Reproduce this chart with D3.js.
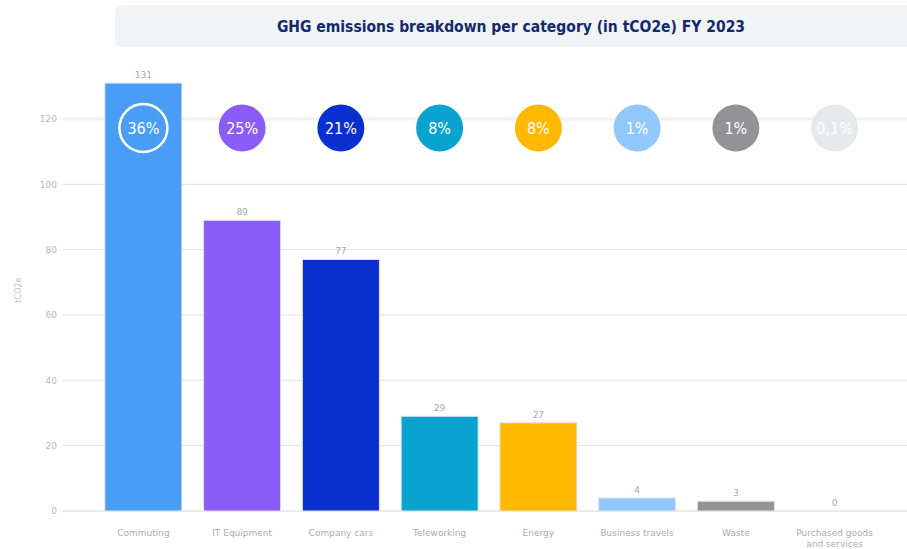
<!DOCTYPE html>
<html>
<head>
<meta charset="utf-8">
<script src="https://cdn.jsdelivr.net/npm/d3@7"></script>
<style>
  body { margin: 0; background: #fff; }
  svg { display: block; }
</style>
</head>
<body>
<div id="chart"></div>
<script>
// data
const categories = ["Commuting", "IT Equipment", "Company cars", "Teleworking", "Energy", "Business travels", "Waste", "Purchased goods and services"];
const values = [131, 89, 77, 29, 27, 4, 3, 0];
const shares = ["36%", "25%", "21%", "8%", "8%", "1%", "1%", "0,1%"];
const colors = ["#4a9df5", "#8b5cf8", "#0a2fcf", "#0aa2cf", "#ffb900", "#92c8fd", "#939396", "#e8e9eb"];
const yTicks = [0, 20, 40, 60, 80, 100, 120];

const width = 907, height = 549;
const condensed = "'DejaVu Sans Condensed', 'DejaVu Sans', sans-serif";

const svg = d3.select("#chart").append("svg")
  .attr("width", width)
  .attr("height", height);

// title box
svg.append("rect")
  .attr("x", 115).attr("y", 5)
  .attr("width", 800).attr("height", 42)
  .attr("rx", 7)
  .attr("fill", "#f1f3f4");

svg.append("text")
  .attr("x", 511).attr("y", 32)
  .attr("text-anchor", "middle")
  .style("font-family", condensed)
  .style("font-weight", "bold")
  .style("font-size", "15.5px")
  .style("fill", "#13296b")
  .text("GHG emissions breakdown per category (in tCO2e) FY 2023");

const x = d3.scaleBand()
  .domain(categories)
  .range([94, 884])
  .paddingInner(0.22)
  .paddingOuter(0.11);

const y = d3.scaleLinear()
  .domain([0, 120])
  .range([511, 119]);

// grid
const grid = svg.append("g").attr("class", "grid");
grid.selectAll("line")
  .data(yTicks)
  .join("line")
  .attr("x1", 62).attr("x2", width)
  .attr("y1", d => y(d)).attr("y2", d => y(d))
  .attr("stroke", d => d === 0 ? "#d6d6d6" : d === 120 ? "#f1f1f1" : "#e2e2e2")
  .attr("stroke-width", d => d === 120 ? 3 : 1);

// y axis labels
const yAxis = svg.append("g")
  .attr("transform", "translate(57,0)")
  .call(d3.axisLeft(y).tickValues(yTicks).tickSize(0).tickPadding(0));
yAxis.select(".domain").remove();
yAxis.selectAll("text")
  .style("font-family", "'DejaVu Sans', sans-serif")
  .style("font-size", "9px")
  .style("fill", "#b8b8b8");

svg.append("text")
  .attr("transform", "translate(21,290) rotate(-90)")
  .attr("text-anchor", "middle")
  .style("font-family", "'DejaVu Sans', sans-serif")
  .style("font-size", "8px")
  .style("fill", "#bdbdbd")
  .text("tCO2e");

// bars
svg.append("g")
  .selectAll("rect")
  .data(categories)
  .join("rect")
  .attr("x", d => x(d))
  .attr("width", x.bandwidth())
  .attr("y", (d, i) => y(values[i]))
  .attr("height", (d, i) => y(0) - y(values[i]))
  .attr("fill", (d, i) => colors[i])
  .attr("stroke", "#e4e4e4")
  .attr("stroke-width", 1);

// value labels
svg.append("g")
  .selectAll("text")
  .data(categories)
  .join("text")
  .attr("x", d => x(d) + x.bandwidth() / 2)
  .attr("y", (d, i) => y(values[i]) - 5)
  .attr("text-anchor", "middle")
  .style("font-family", "'DejaVu Sans', sans-serif")
  .style("font-size", "9px")
  .style("fill", "#a9a9a9")
  .text((d, i) => values[i]);

// share bubbles
const bubbles = svg.append("g")
  .selectAll("g")
  .data(categories)
  .join("g")
  .attr("transform", d => `translate(${x(d) + x.bandwidth() / 2},128)`);

bubbles.append("circle")
  .attr("r", (d, i) => i === 0 ? 24 : 23.5)
  .attr("fill", (d, i) => colors[i])
  .attr("stroke", (d, i) => i === 0 ? "#fff" : "none")
  .attr("stroke-width", 2.5);

bubbles.append("text")
  .attr("y", 6)
  .attr("text-anchor", "middle")
  .style("font-family", condensed)
  .style("font-size", "16px")
  .style("fill", "#fff")
  .text((d, i) => shares[i]);

// category labels (wrap long ones)
const catLabels = svg.append("g")
  .selectAll("text")
  .data(categories)
  .join("text")
  .attr("x", d => x(d) + x.bandwidth() / 2)
  .attr("y", 536)
  .attr("text-anchor", "middle")
  .style("font-family", "'DejaVu Sans', sans-serif")
  .style("font-size", "9px")
  .style("fill", "#adadad");

catLabels.each(function (d) {
  var lines = d.length > 20 ? [d.split(" ").slice(0, 2).join(" "), d.split(" ").slice(2).join(" ")] : [d];
  lines.forEach((t, i) => d3.select(this).append("tspan")
    .attr("x", x(d) + x.bandwidth() / 2)
    .attr("dy", i ? "1.2em" : 0)
    .text(t));
});
</script>
</body>
</html>
